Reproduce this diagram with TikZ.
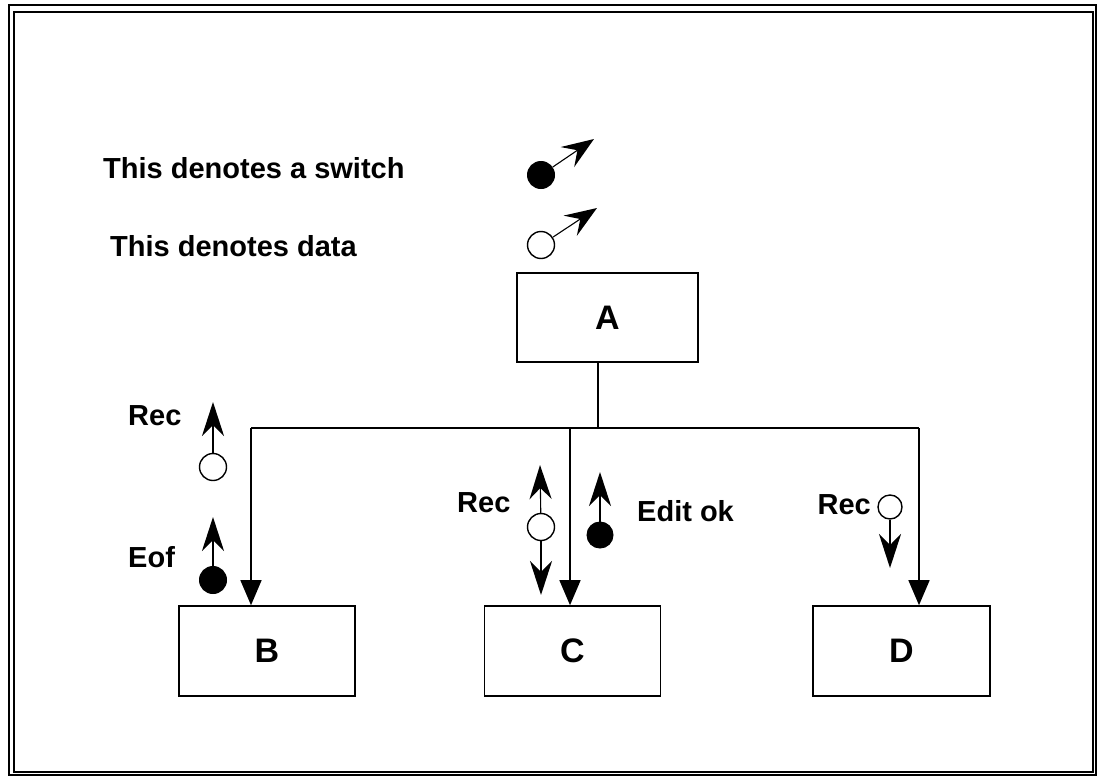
\documentclass[tikz,border=0pt]{standalone}
\usepackage{fontspec}
\setmainfont{Liberation Sans}
\usetikzlibrary{arrows.meta}
\begin{document}
\begin{tikzpicture}[x=1pt,y=-1pt,
  box/.style={draw, line width=1.6pt, minimum width=178pt, minimum height=89pt, inner sep=0pt, font=\fontsize{34}{40}\selectfont\bfseries},
  lbl/.style={font=\fontsize{29}{34}\selectfont\bfseries, inner sep=0pt},
  conn/.style={line width=1.4pt, -{Triangle[length=25pt,width=21pt]}},
  wire/.style={line width=1.4pt},
  sw/.style={circle, fill=black, draw, line width=1pt, minimum size=27pt, inner sep=0pt},
  dat/.style={circle, draw, line width=1.4pt, minimum size=27pt, inner sep=0pt},
  flow/.style={line width=1.1pt, -{Stealth[length=34pt,width=22pt,inset=11pt,line width=3pt]}},
  legflow/.style={line width=1.1pt, -{Stealth[length=32pt,width=24pt,inset=12pt,line width=3pt]}},
]
\useasboundingbox (0,0) rectangle (1099,776);
% frame
\draw[line width=2.2pt] (9,5) rectangle (1096,775);
\draw[line width=2pt] (14,12) rectangle (1093,772);

% legend
\node[lbl, anchor=base west] (t1) at (103,178) {This denotes a switch};
\node[lbl, anchor=base west] (t2) at (110,256) {This denotes data};
\node[sw] (ls) at (541,175) {};
\coordinate (lst) at (594,139);
\draw[legflow] (ls) -- (lst);
\node[dat] (ld) at (541,245) {};
\coordinate (ldt) at (597,208);
\draw[legflow] (ld) -- (ldt);

% boxes
\node[box, minimum width=181pt] (A) at (607.5,317.5) {A};
\node[box, minimum width=176pt, minimum height=90pt] (B) at (267,651) {B};
\node[box, minimum width=176pt, minimum height=90pt] (C) at (572.5,651) {C};
\node[box, minimum width=177pt, minimum height=90pt] (D) at (901.5,651) {D};

% connectors
\coordinate (j) at (598,428);
\coordinate (hb) at (251,428);
\coordinate (hc) at (570,428);
\coordinate (hd) at (919,428);
\draw[wire] (A.south -| j) -- (j);
\draw[wire] (hb) -- (hd);
\draw[conn] (hb) -- (hb |- B.north);
\draw[conn] (hc) -- (hc |- C.north);
\draw[conn] (hd) -- (hd |- D.north);

% B labels
\node[lbl, anchor=base west] (lb1) at (128,425) {Rec};
\node[dat] (bd) at (213,467) {};
\coordinate (bdt) at (213,402);
\draw[flow] (bd) -- (bdt);
\node[lbl, anchor=base west] (lb2) at (128,567) {Eof};
\node[sw] (bs) at (213,580) {};
\coordinate (bst) at (213,517);
\draw[flow] (bs) -- (bst);

% C labels
\node[lbl, anchor=base west] (lc1) at (457,512) {Rec};
\node[dat] (cd) at (541,527) {};
\coordinate (cdu) at (540,465);
\coordinate (cdd) at (541,595);
\draw[flow] (cd) -- (cdu);
\draw[flow] (cd) -- (cdd);
\node[sw, minimum size=26pt] (cs) at (600,535) {};
\coordinate (cst) at (600,472);
\draw[flow] (cs) -- (cst);
\node[lbl, anchor=base west] (lc2) at (637,521) {Edit ok};

% D labels
\node[dat, minimum size=24pt] (dd) at (890,507) {};
\node[lbl, anchor=base east] (ld1) at (871,514) {Rec};
\coordinate (ddt) at (890,568);
\draw[flow] (dd) -- (ddt);
\end{tikzpicture}
\end{document}
